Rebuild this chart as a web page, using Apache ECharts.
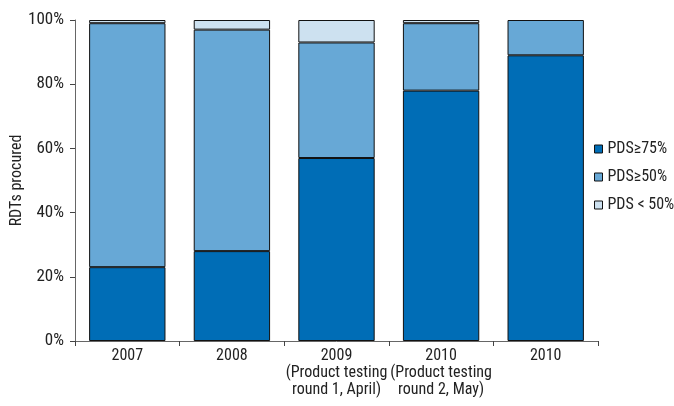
<!DOCTYPE html>
<html><head><meta charset="utf-8">
<script src="https://cdn.jsdelivr.net/npm/echarts@6/dist/echarts.min.js"></script>
<style>html,body{margin:0;padding:0;background:#fff}#c{width:674px;height:406px}</style>
</head><body><div id="c"></div>
<script>
const categories = ['2007', '2008', '2009\n(Product testing\nround 1, April)', '2010\n(Product testing\nround 2, May)', '2010'];
const pds75 = [23, 28, 57, 78, 89];
const pds50 = [76, 69, 36, 21, 11];
const pdsLow = [1, 3, 7, 1, 0];
const seriesNames = ['PDS≥75%', 'PDS≥50%', 'PDS<50%'];
const colors = ['#006db6', '#67a8d6', '#cde1f0'];
const yTicks = [0, 20, 40, 60, 80, 100];

const font = '"Liberation Sans Narrow", "Roboto Condensed", "DejaVu Sans Condensed", sans-serif';
const chart = echarts.init(document.getElementById('c'), null, {renderer: 'canvas'});
const mk = (name, data, color) => ({
  name, type: 'bar', stack: 's', data: data.map(v => v === 0 ? null : v),
  barCategoryGap: '27%',
  itemStyle: {color, borderColor: '#111', borderWidth: 1},
  emphasis: {disabled: true}
});
chart.setOption({
  animation: false,
  textStyle: {fontFamily: font},
  grid: {left: 75, right: 76, top: 20, bottom: 65, outerBoundsMode: 'none', containLabel: false},
  legend: {
    orient: 'vertical', left: 589, top: 136, itemGap: 12,
    itemWidth: 8, itemHeight: 8, icon: 'rect',
    textStyle: {fontFamily: font, fontSize: 16, color: '#222'},
    formatter: n => n.replace('<', ' < '),
    data: seriesNames.map((n, i) => ({name: n, itemStyle: {color: colors[i], borderColor: '#111', borderWidth: 1}}))
  },
  xAxis: {
    type: 'category', data: categories,
    axisLine: {lineStyle: {color: '#666', width: 1}},
    axisTick: {show: true, length: 5, lineStyle: {color: '#444'}},
    axisLabel: {fontFamily: font, fontSize: 16, lineHeight: 17, color: '#222', margin: 6, interval: 0}
  },
  yAxis: {
    type: 'value', min: 0, max: 100, interval: 20,
    name: 'RDTs procured', nameLocation: 'middle', nameGap: 50, nameRotate: 90,
    nameMoveOverlap: false,
    nameTextStyle: {fontFamily: font, fontSize: 16, color: '#222'},
    axisLine: {show: true, lineStyle: {color: '#666', width: 1}},
    axisTick: {show: true, length: 5, lineStyle: {color: '#444'}},
    splitLine: {show: false},
    axisLabel: {fontFamily: font, fontSize: 17, color: '#222', margin: 11,
      formatter: v => yTicks.includes(v) ? v + '%' : ''}
  },
  series: [mk(seriesNames[0], pds75, colors[0]), mk(seriesNames[1], pds50, colors[1]), mk(seriesNames[2], pdsLow, colors[2])]
});
</script></body></html>
